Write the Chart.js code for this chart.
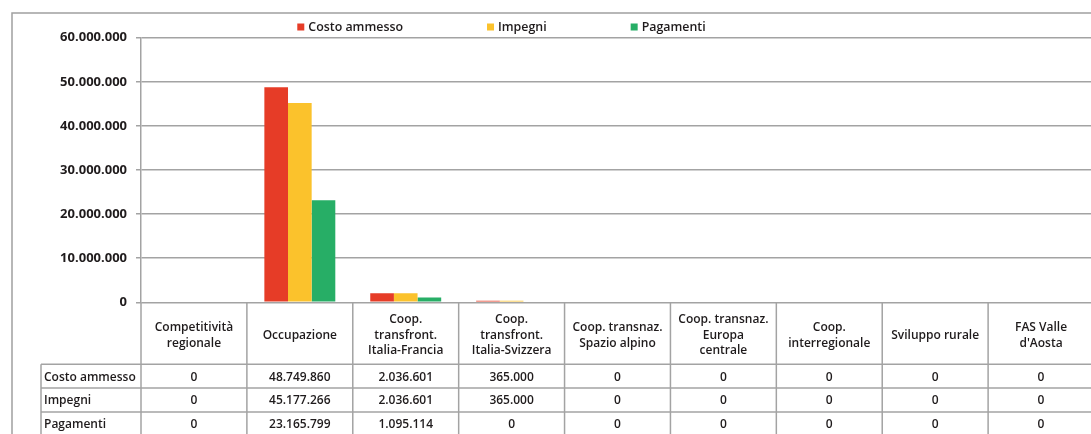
<!DOCTYPE html>
<html>
<head>
<meta charset="utf-8">
<script src="https://cdn.jsdelivr.net/npm/chart.js@4/dist/chart.umd.min.js"></script>
<style>
  html, body { margin: 0; padding: 0; background: #ffffff; overflow: hidden; }
  #wrap { width: 1094px; height: 434px; }
</style>
</head>
<body>
<div id="wrap"><canvas id="c" width="1094" height="434"></canvas></div>
<script>
// ---- DATA ----
const categories = [
  ['Competitività', 'regionale'],
  ['Occupazione'],
  ['Coop.', 'transfront.', 'Italia-Francia'],
  ['Coop.', 'transfront.', 'Italia-Svizzera'],
  ['Coop. transnaz.', 'Spazio alpino'],
  ['Coop. transnaz.', 'Europa', 'centrale'],
  ['Coop.', 'interregionale'],
  ['Sviluppo rurale'],
  ['FAS Valle', "d'Aosta"]
];
const seriesNames = ['Costo ammesso', 'Impegni', 'Pagamenti'];
const costoAmmesso = [0, 48749860, 2036601, 365000, 0, 0, 0, 0, 0];
const impegni      = [0, 45177266, 2036601, 365000, 0, 0, 0, 0, 0];
const pagamenti    = [0, 23165799, 1095114, 0, 0, 0, 0, 0, 0];
const yTickValues  = [0, 10000000, 20000000, 30000000, 40000000, 50000000, 60000000];

// ---- STYLE ----
const colors = ['#E63C27', '#FBC22C', '#27AE66'];
const gridColor = '#a3a3a3';
const textColor = '#1f1b1c';
const FONT = '"Open Sans", "DejaVu Sans", sans-serif';

function fmt(n) {
  return String(n).replace(/\B(?=(\d{3})+(?!\d))/g, '.');
}

const frameAndTable = {
  id: 'frameAndTable',
  beforeDraw(chart) {
    const ctx = chart.ctx;
    ctx.save();
    ctx.strokeStyle = '#a0a0a0';
    ctx.lineWidth = 1.5;
    ctx.strokeRect(12, 13, chart.width + 20, chart.height + 20);
    ctx.restore();
  },
  afterDraw(chart) {
    const ctx = chart.ctx;
    const a = chart.chartArea;
    const x = chart.scales.x;
    const n = categories.length;
    const colW = (a.right - a.left) / n;
    const headerH = 62;
    const rowH = 23.8;
    const labelLeft = a.left - 100;
    const tableTop = a.bottom;
    const headerBottom = tableTop + headerH;
    const series = [costoAmmesso, impegni, pagamenti];

    ctx.save();
    ctx.strokeStyle = gridColor;
    ctx.lineWidth = 1.5;
    // vertical column lines
    for (let i = 0; i <= n; i++) {
      const px = a.left + i * colW;
      ctx.beginPath();
      ctx.moveTo(px, tableTop);
      ctx.lineTo(px, chart.height + 5);
      ctx.stroke();
    }
    // left label column line
    ctx.beginPath();
    ctx.moveTo(labelLeft, headerBottom);
    ctx.lineTo(labelLeft, chart.height + 5);
    ctx.stroke();
    // horizontal lines
    for (let r = 0; r <= series.length; r++) {
      const py = headerBottom + r * rowH;
      ctx.beginPath();
      ctx.moveTo(labelLeft, py);
      ctx.lineTo(chart.width + 5, py);
      ctx.stroke();
    }

    // header text
    ctx.fillStyle = textColor;
    ctx.font = '600 12px ' + FONT;
    ctx.textAlign = 'center';
    ctx.textBaseline = 'middle';
    const lh = 15.6;
    const hc = tableTop + 33;
    categories.forEach((lines, i) => {
      const cx = x.getPixelForValue(i);
      const y0 = hc - (lines.length - 1) * lh / 2;
      lines.forEach((t, k) => ctx.fillText(t, cx, y0 + k * lh));
    });

    // rows
    series.forEach((vals, r) => {
      const cy = headerBottom + r * rowH + rowH / 2 + 1;
      ctx.textAlign = 'left';
      ctx.fillText(seriesNames[r], labelLeft + 3, cy);
      ctx.textAlign = 'center';
      vals.forEach((v, i) => ctx.fillText(fmt(v), x.getPixelForValue(i), cy));
    });

    // legend
    ctx.font = '600 12.4px ' + FONT;
    ctx.textAlign = 'left';
    const box = 7, gap = 4, spacing = 84;
    const widths = seriesNames.map(s => box + gap + ctx.measureText(s).width);
    const total = widths.reduce((s, w) => s + w, 0) + spacing * (widths.length - 1);
    let lx = 501.5 - total / 2;
    const ly = 27;
    seriesNames.forEach((s, i) => {
      ctx.fillStyle = colors[i];
      ctx.fillRect(lx, ly - box / 2, box, box);
      ctx.fillStyle = textColor;
      ctx.fillText(s, lx + box + gap, ly);
      lx += widths[i] + spacing;
    });
    ctx.restore();
  }
};

new Chart(document.getElementById('c'), {
  type: 'bar',
  data: {
    labels: categories,
    datasets: [
      { label: seriesNames[0], data: costoAmmesso, backgroundColor: colors[0] },
      { label: seriesNames[1], data: impegni, backgroundColor: colors[1] },
      { label: seriesNames[2], data: pagamenti, backgroundColor: colors[2] }
    ]
  },
  options: {
    responsive: false,
    animation: false,
    devicePixelRatio: 1,
    layout: { padding: { left: 0, top: 37.7, right: 0, bottom: 131.7 } },
    datasets: { bar: { categoryPercentage: 0.67, barPercentage: 1.0 } },
    plugins: { legend: { display: false }, tooltip: { enabled: false } },
    scales: {
      x: { display: false },
      y: {
        min: 0, max: 60000000,
        afterBuildTicks(scale) { scale.ticks = yTickValues.map(v => ({ value: v })); },
        afterFit(scale) { scale.width = 141; },
        ticks: {
          padding: 9,
          color: textColor,
          font: { family: FONT, size: 13, weight: '700' },
          callback: v => fmt(v)
        },
        grid: { color: gridColor, lineWidth: 1.5, tickLength: 5, drawTicks: true },
        border: { display: true, color: gridColor, width: 1.5 }
      }
    }
  },
  plugins: [frameAndTable]
});
</script>
</body>
</html>
